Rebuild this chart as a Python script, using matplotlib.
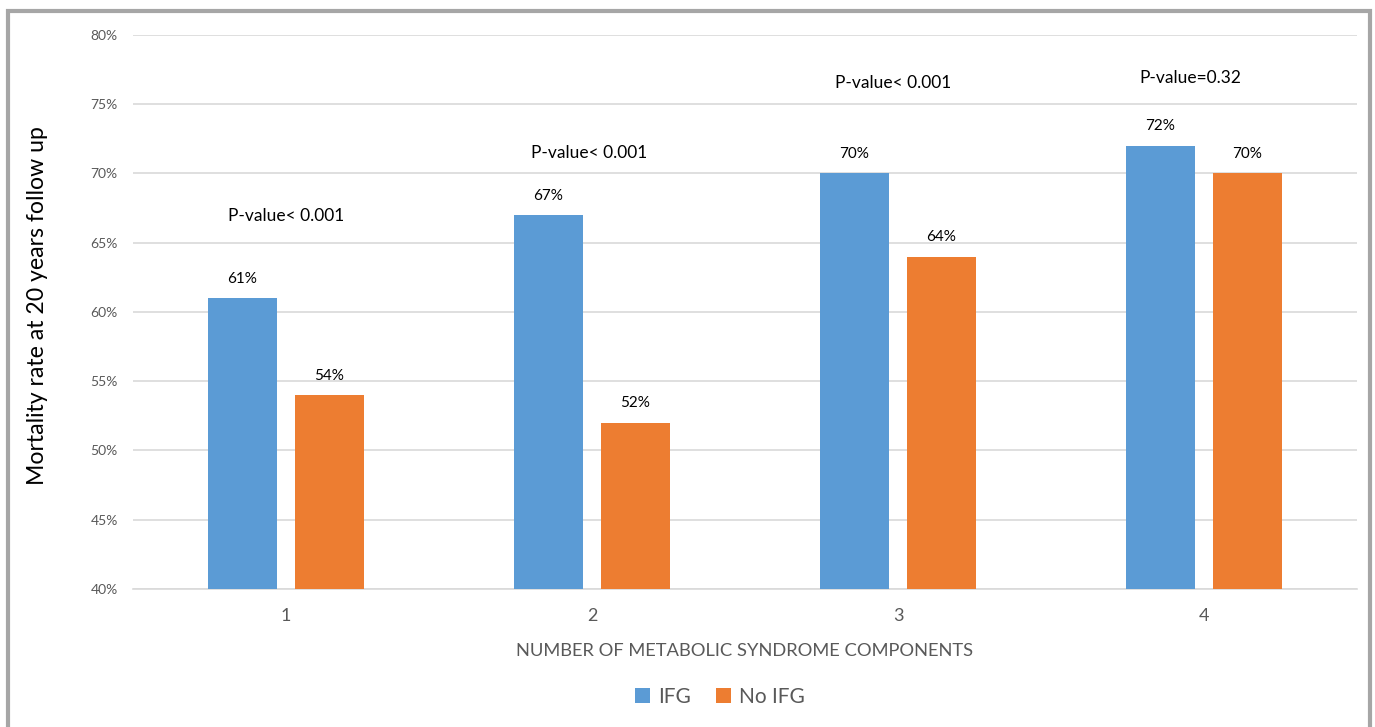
import matplotlib.pyplot as plt
import matplotlib.patches as patches
import numpy as np

plt.rcParams["font.family"] = ["Lato", "DejaVu Sans"]

# Mortality rate by number of metabolic syndrome components
components = ["1", "2", "3", "4"]
ifg = [61, 67, 70, 72]
no_ifg = [54, 52, 64, 70]
p_values = ["P-value< 0.001", "P-value< 0.001", "P-value< 0.001", "P-value=0.32"]
p_label_y = [66.9, 71.5, 76.5, 76.9]

blue = "#5b9bd5"
orange = "#ed7d31"
grey_text = "#595959"

fig = plt.figure(figsize=(13.75, 7.27), dpi=100)
ax = fig.add_axes([133 / 1375, 1 - 589 / 727, 1224 / 1375, 554 / 727])

x = np.arange(1, len(components) + 1)
w = 0.225
off = 0.142
ax.bar(x - off, ifg, w, color=blue, label="IFG", zorder=3)
ax.bar(x + off, no_ifg, w, color=orange, label="No IFG", zorder=3)

for xi, v in zip(x - off, ifg):
    ax.text(xi, v + 0.9, f"{v}%", ha="center", va="bottom", fontsize=11, color="black")
for xi, v in zip(x + off, no_ifg):
    ax.text(xi, v + 0.9, f"{v}%", ha="center", va="bottom", fontsize=11, color="black")

offs = [0, -0.01, -0.015, -0.045]
for xi, s, y, o in zip(x, p_values, p_label_y, offs):
    ax.text(xi + o, y, s, ha="center", va="center", fontsize=12.5, color="black")

ax.set_xlim(0.5, 4.5)
ax.set_ylim(40, 80)
ax.set_yticks(range(40, 81, 5))
ax.set_yticklabels([f"{t}%" for t in range(40, 81, 5)])
ax.set_xticks(x)
ax.set_xticklabels(components)
ax.grid(axis="y", color="#d9d9d9", linewidth=1.2, zorder=0)
ax.set_axisbelow(True)
for s in ["top", "right", "left"]:
    ax.spines[s].set_visible(False)
ax.spines["bottom"].set_color("#d9d9d9")
ax.spines["bottom"].set_linewidth(1.2)
ax.tick_params(axis="y", length=0, labelsize=10, labelcolor=grey_text, pad=11)
ax.tick_params(axis="x", length=0, labelsize=13, labelcolor=grey_text, pad=14)

ax.set_xlabel("NUMBER OF METABOLIC SYNDROME COMPONENTS", fontsize=13.2,
              color=grey_text, labelpad=13)
fig.text(38 / 1375, 1 - 306 / 727, "Mortality rate at 20 years follow up",
         rotation=90, ha="center", va="center", fontsize=16.6, color="black")

fig.legend(loc="center", bbox_to_anchor=(720 / 1375, 1 - 697 / 727), ncol=2,
           frameon=False, fontsize=15, labelcolor=grey_text, handlelength=0.7,
           handleheight=0.7, handletextpad=0.4, columnspacing=1.2)

# outer frame of the chart area
frame = patches.Rectangle((8 / 1375, -0.05), 1362 / 1375, 1.05 - 11 / 727,
                          transform=fig.transFigure, fill=False,
                          edgecolor="#a6a6a6", linewidth=3, clip_on=False)
fig.patches.append(frame)

fig.savefig("out.png", dpi=100)
